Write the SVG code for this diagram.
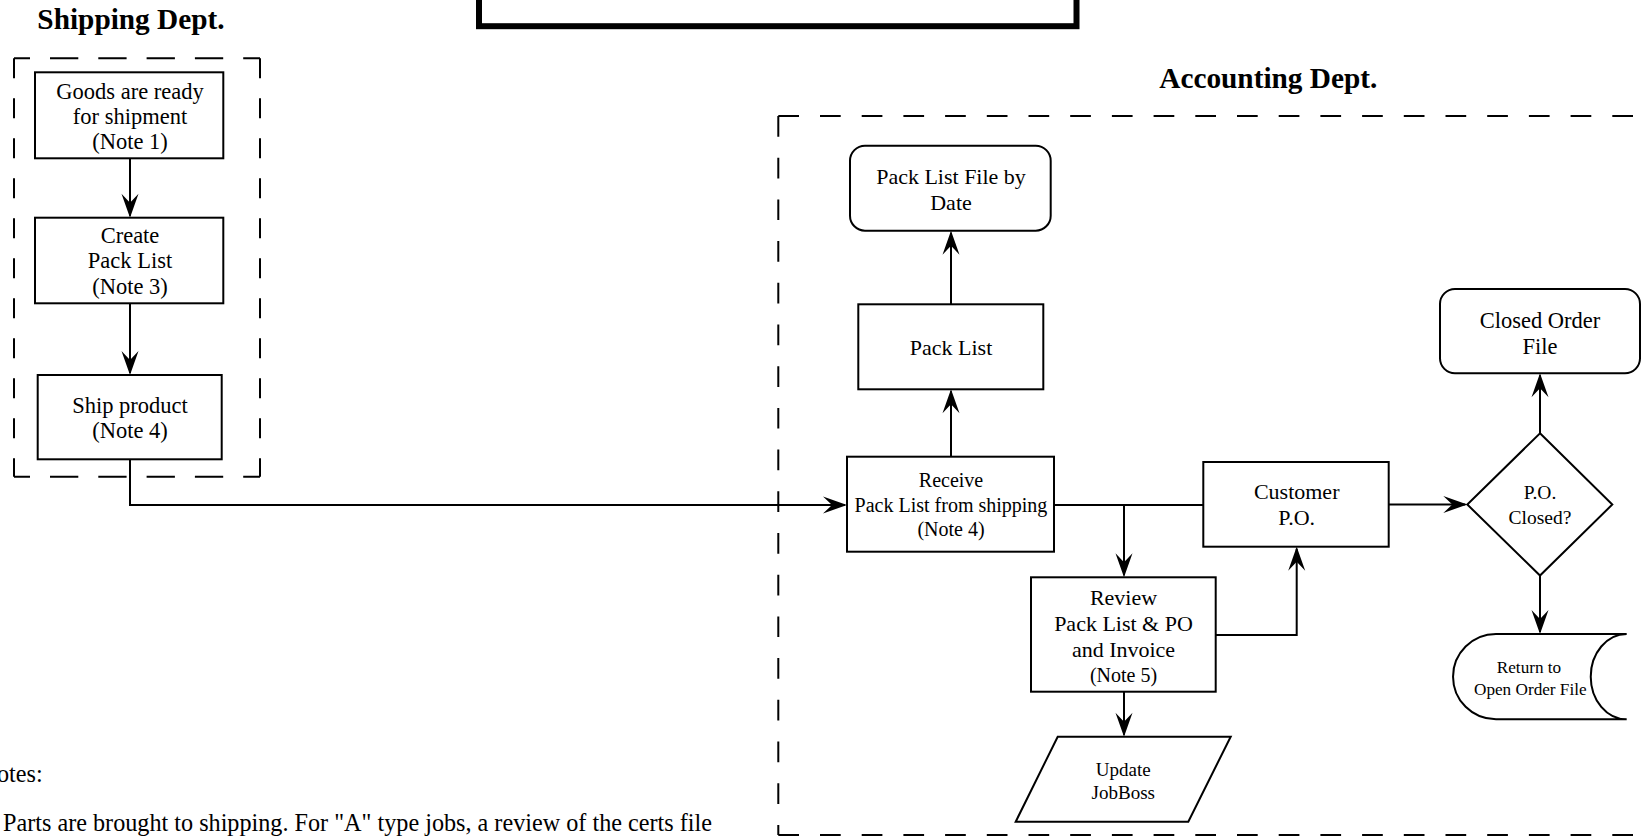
<svg xmlns="http://www.w3.org/2000/svg" width="1650" height="836" viewBox="0 0 1650 836">
<style>
.box{fill:#fff;stroke:#000;stroke-width:2}
.t{font-family:"Liberation Serif","Times New Roman",serif;fill:#000;text-anchor:middle}
.ttl{font-family:"Liberation Serif","Times New Roman",serif;font-weight:bold;font-size:29.3px;fill:#000;text-anchor:middle}
.conn{fill:none;stroke:#000;stroke-width:2}
.arr{marker-end:url(#ah)}
.dsh{fill:none;stroke:#000;stroke-width:2}
.note{font-family:"Liberation Serif","Times New Roman",serif;font-size:24.2px;fill:#000}
</style>
<defs>
<marker id="ah" viewBox="-27 -10 29 20" refX="-2" refY="0" markerWidth="29" markerHeight="20" markerUnits="userSpaceOnUse" orient="auto">
<path d="M0,0 L-24,-8.5 L-15,0 L-24,8.5 Z" fill="#000"/>
</marker>
</defs>

<g id="title-box">
<rect x="479" y="-60" width="597.5" height="86.2" fill="#fff" stroke="#000" stroke-width="6"/>
</g>

<g id="shipping-dept">
<text class="ttl" x="131" y="29.3">Shipping Dept.</text>
<path class="dsh" d="M14,58.3 H260" stroke-dasharray="28.3 20" stroke-dashoffset="12.3"/>
<path class="dsh" d="M14,476.7 H260" stroke-dasharray="28.3 20" stroke-dashoffset="12.3"/>
<path class="dsh" d="M14,58.3 V476.7" stroke-dasharray="20 20"/>
<path class="dsh" d="M260,58.3 V476.7" stroke-dasharray="20 20"/>
</g>
<g id="accounting-dept">
<text class="ttl" x="1268.3" y="88.3">Accounting Dept.</text>
<path class="dsh" d="M778.3,116 H1700" stroke-dasharray="20.7 21"/>
<path class="dsh" d="M778.3,116 V835" stroke-dasharray="20.7 21"/>
<path class="dsh" d="M778.3,835 H1700" stroke-dasharray="20.7 21"/>
</g>

<g id="connectors">
<path class="conn arr" d="M130,158.3 V215.7"/>
<path class="conn arr" d="M130,303.3 V373"/>
<path class="conn arr" d="M130,459.3 V505 H845"/>
<path class="conn arr" d="M951,456.7 V391.3"/>
<path class="conn arr" d="M951,304.3 V232.7"/>
<path class="conn" d="M1054,505 H1203.3"/>
<path class="conn arr" d="M1124,505 V575.3"/>
<path class="conn arr" d="M1215.7,635 H1296.7 V548.7"/>
<path class="conn arr" d="M1124,691.7 V734.7"/>
<path class="conn arr" d="M1388.7,504.5 H1465.3"/>
<path class="conn arr" d="M1540,433.3 V375.3"/>
<path class="conn arr" d="M1540,575.5 V632"/>
</g>

<g id="goods-ready">
<rect class="box" x="35" y="72.3" width="188.3" height="86"/>
<text class="t" font-size="22.5" x="130" y="99.3">Goods are ready</text>
<text class="t" font-size="22.5" x="130" y="123.8">for shipment</text>
<text class="t" font-size="22.5" x="130" y="149">(Note 1)</text>
</g>
<g id="create-pack-list">
<rect class="box" x="35" y="217.7" width="188.3" height="85.6"/>
<text class="t" font-size="22.5" x="130" y="243.3">Create</text>
<text class="t" font-size="22.5" x="130" y="268.3">Pack List</text>
<text class="t" font-size="22.5" x="130" y="294">(Note 3)</text>
</g>
<g id="ship-product">
<rect class="box" x="37.7" y="375" width="184" height="84.3"/>
<text class="t" font-size="22.5" x="130" y="412.7">Ship product</text>
<text class="t" font-size="22.5" x="130" y="437.7">(Note 4)</text>
</g>

<g id="pack-list-file">
<rect class="box" x="850" y="145.7" width="200.7" height="85" rx="15" ry="15"/>
<text class="t" font-size="22" x="951" y="184">Pack List File by</text>
<text class="t" font-size="22" x="951" y="210">Date</text>
</g>
<g id="pack-list">
<rect class="box" x="858.3" y="304.3" width="185" height="85"/>
<text class="t" font-size="22" x="951" y="355">Pack List</text>
</g>
<g id="receive-pack-list">
<rect class="box" x="847" y="456.7" width="207" height="95"/>
<text class="t" font-size="20" x="951" y="487">Receive</text>
<text class="t" font-size="20" x="951" y="512">Pack List from shipping</text>
<text class="t" font-size="20" x="951" y="535.7">(Note 4)</text>
</g>
<g id="customer-po">
<rect class="box" x="1203.3" y="462" width="185.4" height="84.7"/>
<text class="t" font-size="22" x="1296.7" y="499">Customer</text>
<text class="t" font-size="22" x="1296.7" y="525">P.O.</text>
</g>
<g id="review">
<rect class="box" x="1031" y="577.3" width="184.7" height="114.4"/>
<text class="t" font-size="22" x="1123.5" y="605">Review</text>
<text class="t" font-size="22" x="1123.5" y="630.7">Pack List &amp; PO</text>
<text class="t" font-size="22" x="1123.5" y="656.7">and Invoice</text>
<text class="t" font-size="20" x="1123.5" y="681.7">(Note 5)</text>
</g>
<g id="update-jobboss">
<polygon class="box" points="1057.7,736.7 1230.7,736.7 1188.3,821.7 1015.7,821.7"/>
<text class="t" font-size="19" x="1123.3" y="775.7">Update</text>
<text class="t" font-size="19" x="1123.3" y="799">JobBoss</text>
</g>
<g id="po-closed">
<polygon class="box" points="1540,433.3 1612.3,504.5 1540,575.5 1467.3,504.5"/>
<text class="t" font-size="19.5" x="1540" y="499">P.O.</text>
<text class="t" font-size="19.5" x="1540" y="523.5">Closed?</text>
</g>
<g id="closed-order-file">
<rect class="box" x="1440" y="289" width="200" height="84.3" rx="15" ry="15"/>
<text class="t" font-size="22.5" x="1540" y="328">Closed Order</text>
<text class="t" font-size="22.5" x="1540" y="354">File</text>
</g>
<g id="return-open-order">
<path class="box" d="M1626.7,634 H1496 A43,42.65 0 0 0 1496,719.3 H1626.7 A36,42.65 0 0 1 1626.7,634 Z"/>
<text class="t" font-size="17.2" x="1529" y="673.3">Return to</text>
<text class="t" font-size="17.2" x="1530.3" y="695">Open Order File</text>
</g>

<g id="notes">
<text class="note" x="-3" y="782">otes:</text>
<text class="note" x="3" y="830.5">Parts are brought to shipping. For "A" type jobs, a review of the certs file</text>
</g>
</svg>
